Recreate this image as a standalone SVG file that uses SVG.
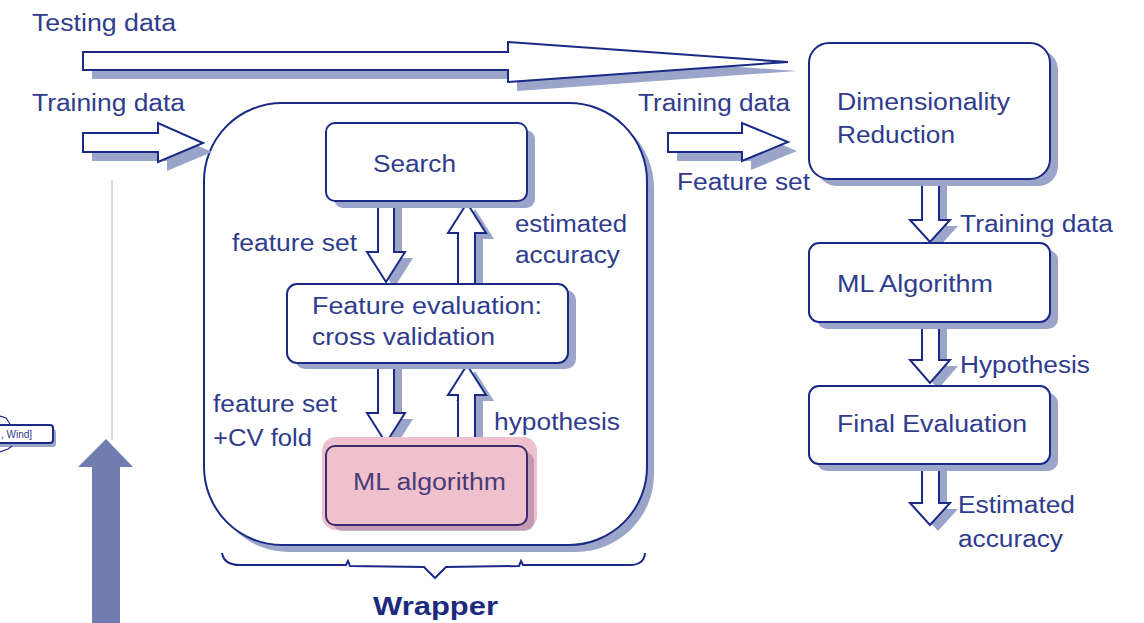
<svg xmlns="http://www.w3.org/2000/svg" width="1144" height="623" viewBox="0 0 1144 623">
  <style>
    .t { font-family: "Liberation Sans", Arial, sans-serif; font-size: 23px; fill: #2f3c8e; }
    .tb { font-family: "Liberation Sans", Arial, sans-serif; font-size: 25px; font-weight: bold; fill: #1c2a7e; }
    .box { fill: #ffffff; stroke: #1a2a86; stroke-width: 2; }
    .shadow { fill: #9ba4c9; stroke: none; }
    .arrow { fill: #ffffff; stroke: #1a2a86; stroke-width: 2; stroke-linejoin: miter; }
  </style>

  <rect width="1144" height="623" fill="#ffffff"/>

  <!-- stray elements on the left edge -->
  <g id="fragment">
    <line x1="112" y1="180" x2="112" y2="440" stroke="#b4b4b4" stroke-width="1"/>
    <polygon points="92,623 92,467 78,467 106,439 133,467 120,467 120,623" fill="#6f7db0"/>
    <rect x="-10" y="429" width="66" height="18" rx="3" class="shadow"/>
    <rect x="-10" y="425" width="63" height="18" rx="3" class="box" stroke-width="1.5"/>
    <text x="1" y="438" style="font-family:'Liberation Sans',Arial,sans-serif;font-size:10px;fill:#2f3c8e">, Wind]</text>
    <path d="M0,416 L6,418 L10,424" fill="none" stroke="#1a2a86" stroke-width="1.2"/>
    <path d="M0,452 L8,449 L12,446" fill="none" stroke="#1a2a86" stroke-width="1.2"/>
  </g>

  <!-- wrapper frame -->
  <g id="wrapper">
    <rect x="211" y="110" width="443" height="442" rx="78" class="shadow"/>
    <rect x="204" y="103" width="443" height="442" rx="78" class="box"/>
    <path d="M222,553 Q224,565 240,565 L346,565 L348,561 L350,566 L424,567 L435,578 L446,567 L519,566 L521,561 L523,565 L630,565 Q644,565 645,553" fill="none" stroke="#1a2a86" stroke-width="2"/>
    <text x="373" y="615" class="tb" textLength="125" lengthAdjust="spacingAndGlyphs">Wrapper</text>
  </g>

  <!-- connectors -->
  <g id="connectors">
    <!-- testing data -->
    <polygon points="92,61 517,61 517,51 797,71 517,91 517,79 92,79" class="shadow"/>
    <polygon points="83,52 508,52 508,42 788,62 508,82 508,70 83,70" class="arrow"/>
    <!-- training data into wrapper -->
    <polygon points="92,142 167,142 167,132 212,152 167,171 167,161 92,161" class="shadow"/>
    <polygon points="83,133 158,133 158,123 203,143 158,162 158,152 83,152" class="arrow"/>
    <!-- training data / feature set into reduction -->
    <polygon points="677,142 751,142 751,132 797,151 751,170 751,161 677,161" class="shadow"/>
    <polygon points="668,133 742,133 742,123 788,142 742,161 742,152 668,152" class="arrow"/>

    <!-- search -> feature evaluation -->
    <polygon points="386,207 402,207 402,258 413,258 394,288 375,258 386,258" class="shadow"/>
    <polygon points="378,201 394,201 394,252 405,252 386,282 367,252 378,252" class="arrow"/>
    <!-- feature evaluation -> search -->
    <polygon points="466,290 483,290 483,239 494,239 475,209 456,239 466,239" class="shadow"/>
    <polygon points="458,284 475,284 475,233 486,233 467,203 448,233 458,233" class="arrow"/>
    <!-- feature evaluation -> ML algorithm -->
    <polygon points="386,369 402,369 402,419 413,419 394,449 375,419 386,419" class="shadow"/>
    <polygon points="378,363 394,363 394,413 405,413 386,443 367,413 378,413" class="arrow"/>
    <!-- ML algorithm -> feature evaluation -->
    <polygon points="466,452 483,452 483,401 494,401 475,371 456,401 466,401" class="shadow"/>
    <polygon points="458,446 475,446 475,395 486,395 467,365 448,395 458,395" class="arrow"/>

    <!-- right column -->
    <polygon points="930,185 947,185 947,226 958,226 938,248 918,226 930,226" class="shadow"/>
    <polygon points="922,179 939,179 939,220 950,220 930,242 910,220 922,220" class="arrow"/>
    <polygon points="930,328 947,328 947,366 958,366 938,389 918,366 930,366" class="shadow"/>
    <polygon points="922,322 939,322 939,360 950,360 930,383 910,360 922,360" class="arrow"/>
    <polygon points="930,470 947,470 947,509 958,509 938,531 918,509 930,509" class="shadow"/>
    <polygon points="922,464 939,464 939,503 950,503 930,525 910,503 922,503" class="arrow"/>
  </g>

  <!-- edge labels -->
  <g id="labels">
    <text x="32" y="31" class="t" textLength="144" lengthAdjust="spacingAndGlyphs">Testing data</text>
    <text x="32" y="111" class="t" textLength="153" lengthAdjust="spacingAndGlyphs">Training data</text>
    <text x="638" y="111" class="t" textLength="152" lengthAdjust="spacingAndGlyphs">Training data</text>
    <text x="677" y="190" class="t" textLength="133" lengthAdjust="spacingAndGlyphs">Feature set</text>
    <text x="232" y="251" class="t" textLength="125" lengthAdjust="spacingAndGlyphs">feature set</text>
    <text x="515" y="232" class="t" textLength="112" lengthAdjust="spacingAndGlyphs">estimated</text>
    <text x="515" y="263" class="t" textLength="105" lengthAdjust="spacingAndGlyphs">accuracy</text>
    <text x="213" y="412" class="t" textLength="124" lengthAdjust="spacingAndGlyphs">feature set</text>
    <text x="213" y="446" class="t" textLength="99" lengthAdjust="spacingAndGlyphs">+CV fold</text>
    <text x="494" y="430" class="t" textLength="126" lengthAdjust="spacingAndGlyphs">hypothesis</text>
    <text x="960" y="232" class="t" textLength="153" lengthAdjust="spacingAndGlyphs">Training data</text>
    <text x="960" y="373" class="t" textLength="130" lengthAdjust="spacingAndGlyphs">Hypothesis</text>
    <text x="958" y="513" class="t" textLength="117" lengthAdjust="spacingAndGlyphs">Estimated</text>
    <text x="958" y="547" class="t" textLength="105" lengthAdjust="spacingAndGlyphs">accuracy</text>
  </g>

  <g id="search">
    <rect x="334" y="130" width="201" height="78" rx="9" class="shadow"/>
    <rect x="326" y="123" width="201" height="78" rx="9" class="box"/>
    <text x="373" y="172" class="t" textLength="83" lengthAdjust="spacingAndGlyphs">Search</text>
  </g>

  <g id="feature-evaluation">
    <rect x="295" y="290" width="281" height="79" rx="10" class="shadow"/>
    <rect x="287" y="284" width="281" height="79" rx="10" class="box"/>
    <text x="312" y="314" class="t" textLength="230" lengthAdjust="spacingAndGlyphs">Feature evaluation:</text>
    <text x="312" y="345" class="t" textLength="183" lengthAdjust="spacingAndGlyphs">cross validation</text>
  </g>

  <g id="ml-algorithm-inner">
    <rect x="322" y="437" width="215" height="93" rx="14" fill="#efc1cd"/>
    <rect x="333" y="452" width="201" height="79" rx="9" fill="#9c7aa8" opacity="0.55"/>
    <rect x="326" y="446" width="201" height="79" rx="9" fill="#efc1cd" stroke="#3a2a6c" stroke-width="2"/>
    <text x="353" y="490" class="t" style="fill:#4a3b78" textLength="153" lengthAdjust="spacingAndGlyphs">ML algorithm</text>
  </g>

  <g id="dimensionality-reduction">
    <rect x="817" y="50" width="241" height="136" rx="20" class="shadow"/>
    <rect x="809" y="43" width="241" height="136" rx="20" class="box"/>
    <text x="837" y="110" class="t" textLength="173" lengthAdjust="spacingAndGlyphs">Dimensionality</text>
    <text x="837" y="143" class="t" textLength="118" lengthAdjust="spacingAndGlyphs">Reduction</text>
  </g>

  <g id="ml-algorithm">
    <rect x="817" y="250" width="241" height="79" rx="10" class="shadow"/>
    <rect x="809" y="243" width="241" height="79" rx="10" class="box"/>
    <text x="837" y="292" class="t" textLength="156" lengthAdjust="spacingAndGlyphs">ML Algorithm</text>
  </g>

  <g id="final-evaluation">
    <rect x="817" y="393" width="241" height="78" rx="10" class="shadow"/>
    <rect x="809" y="386" width="241" height="78" rx="10" class="box"/>
    <text x="837" y="432" class="t" textLength="190" lengthAdjust="spacingAndGlyphs">Final Evaluation</text>
  </g>
</svg>
